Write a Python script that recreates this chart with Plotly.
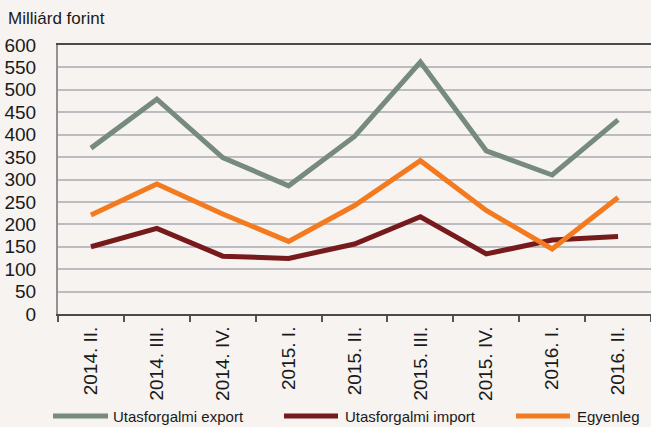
import plotly.graph_objects as go

categories = ["2014. II.", "2014. III.", "2014. IV.", "2015. I.", "2015. II.",
              "2015. III.", "2015. IV.", "2016. I.", "2016. II."]
export_vals = [370, 479, 349, 286, 396, 562, 364, 310, 433]
import_vals = [150, 191, 129, 124, 156, 217, 134, 165, 173]
balance_vals = [221, 290, 223, 162, 242, 342, 231, 145, 260]
y_ticks = [0, 50, 100, 150, 200, 250, 300, 350, 400, 450, 500, 550, 600]

series_names = ["Utasforgalmi export", "Utasforgalmi import", "Egyenleg"]
colors = ["#768A7F", "#761A1C", "#F47A20"]

BG = "#F6F3F0"
FONT = "Liberation Sans, Arial, sans-serif"

fig = go.Figure()
for name, vals, c in zip(series_names, [export_vals, import_vals, balance_vals], colors):
    fig.add_trace(go.Scatter(x=categories, y=vals, mode="lines", name=name,
                             line=dict(color=c, width=5), showlegend=False))

W, H = 651, 427
L, R, T, B = 58, 0, 45, 113
pw, ph = W - L - R, H - T - B

def px(x):
    return (x - L) / pw

def py(y):
    return (H - B - y) / ph

# Manual legend (long line samples like the original)
legend_items = [(53, 108, 111), (284, 338, 343), (516, 570, 575)]
for (x0, x1, tx), name, c in zip(legend_items, series_names, colors):
    fig.add_shape(type="line", xref="paper", yref="paper",
                  x0=px(x0), x1=px(x1), y0=py(416), y1=py(416),
                  line=dict(color=c, width=5))
    fig.add_annotation(xref="paper", yref="paper", x=px(tx), y=py(416),
                       text=name, showarrow=False, xanchor="left", yanchor="middle",
                       font=dict(size=15, color="#1a1a1a", family=FONT))

fig.add_annotation(xref="paper", yref="paper", x=px(6), y=py(18),
                   text="Milliárd forint", showarrow=False, xanchor="left",
                   yanchor="middle", font=dict(size=17, color="#1a1a1a", family=FONT))

fig.update_layout(
    width=W, height=H,
    margin=dict(l=L, r=R, t=T, b=B),
    paper_bgcolor=BG, plot_bgcolor=BG,
    font=dict(family=FONT, size=18, color="#1a1a1a"),
    showlegend=False,
)
fig.update_xaxes(type="category", range=[-0.5, len(categories) - 0.5],
                 tickangle=-90, showgrid=False,
                 tickson="boundaries", ticks="outside", ticklen=6, tickwidth=2,
                 tickcolor="#555555", showline=True, linecolor="#4a4a4a",
                 linewidth=2, mirror=True, tickfont=dict(size=19),
                 ticklabelstandoff=3)
fig.update_yaxes(range=[0, 600], tickvals=y_ticks, showgrid=True,
                 gridcolor="#BCBCC1", gridwidth=2, zeroline=False,
                 showline=True, linecolor="#909296", linewidth=2,
                 ticks="", tickfont=dict(size=19), ticklabelstandoff=16)

fig.write_html("out.html", config={"displayModeBar": False},
               post_script="document.body.style.margin='0';document.body.style.overflow='hidden';document.body.style.background='" + BG + "';")
